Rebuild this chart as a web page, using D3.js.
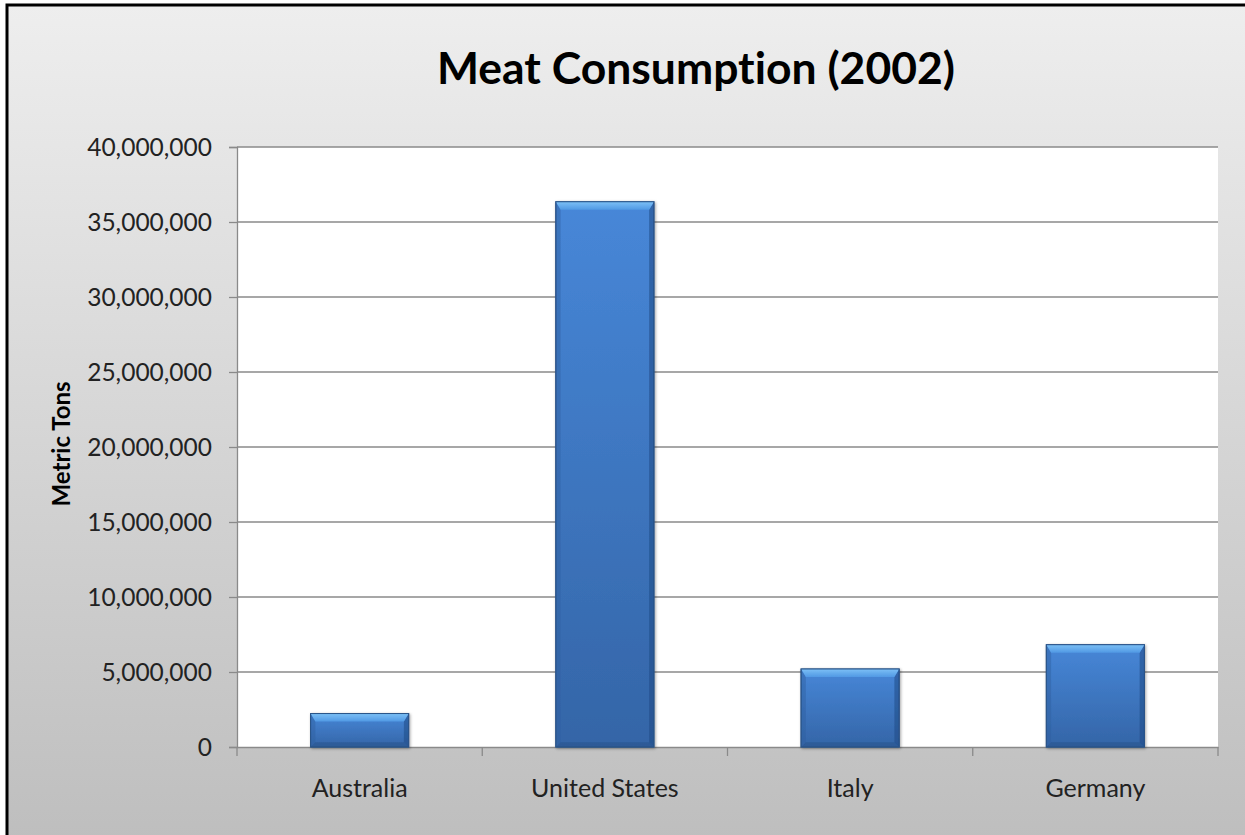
<!DOCTYPE html>
<html>
<head>
<meta charset="utf-8">
<script src="https://cdn.jsdelivr.net/npm/d3@7"></script>
<style>
  html, body { margin: 0; padding: 0; background: #ffffff; overflow: hidden; }
  svg { display: block; }
  text { font-family: Lato, "Open Sans", "DejaVu Sans", sans-serif; font-variant-ligatures: none; }
</style>
</head>
<body>
<svg id="chart" width="1245" height="835"></svg>
<script>
const title = "Meat Consumption (2002)";
const yAxisTitle = "Metric Tons";
const categories = ["Australia", "United States", "Italy", "Germany"];
const values = [2230000, 36350000, 5200000, 6820000];
const yTicks = [0, 5000000, 10000000, 15000000, 20000000, 25000000, 30000000, 35000000, 40000000];

const W = 1245, H = 835;
const plot = { left: 237, right: 1218, top: 147, bottom: 747 };

const svg = d3.select("#chart");
const defs = svg.append("defs");

// background gradient
const bg = defs.append("linearGradient").attr("id", "bgGrad")
  .attr("x1", 0).attr("y1", 0).attr("x2", 0).attr("y2", 1);
bg.append("stop").attr("offset", "0%").attr("stop-color", "#eeeeee");
bg.append("stop").attr("offset", "100%").attr("stop-color", "#bdbdbd");

// bar gradients
const bodyG = defs.append("linearGradient").attr("id", "barBody")
  .attr("x1", 0).attr("y1", 0).attr("x2", 0).attr("y2", 1);
bodyG.append("stop").attr("offset", "0%").attr("stop-color", "#4787d8");
bodyG.append("stop").attr("offset", "100%").attr("stop-color", "#3465a7");

const topG = defs.append("linearGradient").attr("id", "barTop")
  .attr("x1", 0).attr("y1", 0).attr("x2", 0).attr("y2", 1);
topG.append("stop").attr("offset", "0%").attr("stop-color", "#7cc0f6");
topG.append("stop").attr("offset", "100%").attr("stop-color", "#5199e4");

const shadow = defs.append("filter").attr("id", "barShadow")
  .attr("x", "-10%").attr("y", "-10%").attr("width", "130%").attr("height", "130%");
shadow.append("feGaussianBlur").attr("in", "SourceAlpha").attr("stdDeviation", 1.6).attr("result", "b");
shadow.append("feOffset").attr("dx", 1).attr("dy", 1).attr("result", "o");
shadow.append("feComponentTransfer").append("feFuncA").attr("type", "linear").attr("slope", 0.35);
const merge = shadow.append("feMerge");
merge.append("feMergeNode");
merge.append("feMergeNode").attr("in", "SourceGraphic");

// chart area background with border (cropped on right/bottom)
svg.append("rect").attr("x", 0).attr("y", 0).attr("width", W).attr("height", H).attr("fill", "#ffffff");
svg.append("rect")
  .attr("x", 7).attr("y", 5).attr("width", W + 20).attr("height", H + 20)
  .attr("fill", "url(#bgGrad)")
  .attr("stroke", "#000000").attr("stroke-width", 3);

// plot area
svg.append("rect")
  .attr("x", plot.left).attr("y", plot.top)
  .attr("width", plot.right - plot.left).attr("height", plot.bottom - plot.top)
  .attr("fill", "#ffffff");

const x = d3.scaleBand().domain(categories).range([plot.left, plot.right]).paddingInner(0).paddingOuter(0);
const y = d3.scaleLinear().domain([0, 40000000]).range([plot.bottom, plot.top]);

// gridlines
svg.append("g").selectAll("line").data(yTicks.filter(d => d > 0)).join("line")
  .attr("x1", plot.left).attr("x2", plot.right)
  .attr("y1", d => y(d)).attr("y2", d => y(d))
  .attr("stroke", "#8a8a8a").attr("stroke-width", 1.3);

// y axis
const fmt = d3.format(",");
const yAxis = d3.axisLeft(y).tickValues(yTicks).tickFormat(fmt).tickSizeOuter(0).tickSize(8).tickPadding(17);
const yG = svg.append("g").attr("transform", `translate(${plot.left},0)`).call(yAxis);
yG.select(".domain").attr("stroke", "#8a8a8a").attr("stroke-width", 1.3);
yG.selectAll(".tick line").attr("stroke", "#8a8a8a").attr("stroke-width", 1.3);
yG.selectAll(".tick text")
  .attr("font-family", "Lato, 'Open Sans', sans-serif")
  .attr("font-size", 24.5).attr("fill", "#222222").attr("dy", "0.36em");

// x axis
const xAxis = d3.axisBottom(x).tickSize(0).tickPadding(0).tickSizeOuter(0);
const xG = svg.append("g").attr("transform", `translate(0,${plot.bottom})`).call(xAxis);
xG.select(".domain").attr("stroke", "#8a8a8a").attr("stroke-width", 1.3);
xG.selectAll(".tick text")
  .attr("font-family", "Lato, 'Open Sans', sans-serif")
  .attr("font-size", 25).attr("fill", "#222222")
  .attr("y", 50).attr("dy", 0);
// category boundary ticks
const bounds = categories.map(c => x(c)).concat([plot.right]);
xG.append("g").selectAll("line").data(bounds).join("line")
  .attr("x1", d => d).attr("x2", d => d).attr("y1", 0).attr("y2", 9)
  .attr("stroke", "#8a8a8a").attr("stroke-width", 1.3);

// bars
const barW = x.bandwidth() / 2.5;
const bev = 8;
const bars = svg.append("g").selectAll("g").data(categories.map((c, i) => ({ c, v: values[i] }))).join("g")
  .attr("filter", "url(#barShadow)");

bars.append("rect")
  .attr("x", d => x(d.c) + (x.bandwidth() - barW) / 2)
  .attr("y", d => y(d.v))
  .attr("width", barW)
  .attr("height", d => y(0) - y(d.v))
  .attr("fill", "url(#barBody)")
  .attr("stroke", "#2b5489").attr("stroke-width", 1);

// left bevel
bars.append("path").attr("d", d => {
  const x0 = x(d.c) + (x.bandwidth() - barW) / 2, y0 = y(d.v), y1 = y(0);
  return `M${x0},${y0} L${x0 + bev * 0.6},${y0 + bev} L${x0 + bev * 0.6},${y1 - bev * 0.6} L${x0},${y1} Z`;
}).attr("fill", "#2f5f9f").attr("opacity", 0.45);
// right bevel
bars.append("path").attr("d", d => {
  const x1 = x(d.c) + (x.bandwidth() + barW) / 2, y0 = y(d.v), y1 = y(0);
  return `M${x1},${y0} L${x1 - bev * 0.6},${y0 + bev} L${x1 - bev * 0.6},${y1 - bev * 0.6} L${x1},${y1} Z`;
}).attr("fill", "#1f4a85").attr("opacity", 0.55);
// bottom bevel
bars.append("path").attr("d", d => {
  const x0 = x(d.c) + (x.bandwidth() - barW) / 2, x1 = x0 + barW, y1 = y(0);
  return `M${x0},${y1} L${x0 + bev * 0.6},${y1 - bev * 0.6} L${x1 - bev * 0.6},${y1 - bev * 0.6} L${x1},${y1} Z`;
}).attr("fill", "#254f88").attr("opacity", 0.5);
// top bevel
bars.append("path").attr("d", d => {
  const x0 = x(d.c) + (x.bandwidth() - barW) / 2, x1 = x0 + barW, y0 = y(d.v);
  return `M${x0},${y0} L${x1},${y0} L${x1 - bev * 0.6},${y0 + bev} L${x0 + bev * 0.6},${y0 + bev} Z`;
}).attr("fill", "url(#barTop)");
bars.append("rect")
  .attr("x", d => x(d.c) + (x.bandwidth() - barW) / 2)
  .attr("y", d => y(d.v))
  .attr("width", barW)
  .attr("height", d => y(0) - y(d.v))
  .attr("fill", "none")
  .attr("stroke", "#2b5489").attr("stroke-width", 1);

// title
svg.append("text")
  .attr("x", 696).attr("y", 84)
  .attr("text-anchor", "middle")
  .attr("font-family", "Lato, 'Open Sans', sans-serif")
  .attr("font-weight", "bold").attr("font-size", 43)
  .attr("fill", "#000000")
  .attr("textLength", 518).attr("lengthAdjust", "spacingAndGlyphs")
  .text(title);

// y axis title
svg.append("text")
  .attr("transform", `translate(70,444) rotate(-90)`)
  .attr("text-anchor", "middle")
  .attr("font-family", "Lato, 'Open Sans', sans-serif")
  .attr("font-weight", "bold").attr("font-size", 24)
  .attr("fill", "#000000")
  .text(yAxisTitle);
</script>
</body>
</html>
